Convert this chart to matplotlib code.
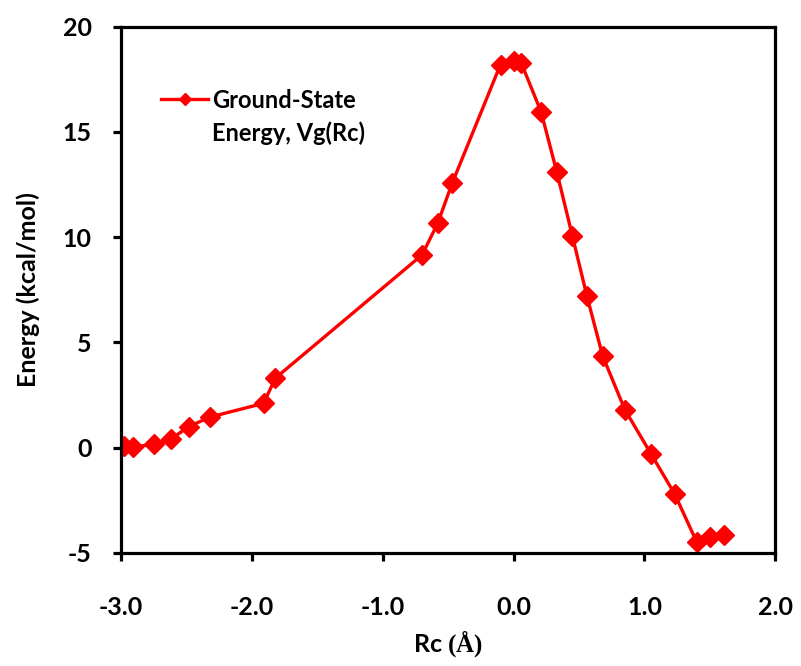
import matplotlib.pyplot as plt
from matplotlib.lines import Line2D

rc = [-2.98, -2.91, -2.75, -2.62, -2.48, -2.32, -1.91, -1.82,
      -0.70, -0.58, -0.47, -0.10, 0.00, 0.06, 0.21, 0.33, 0.45,
      0.56, 0.68, 0.85, 1.05, 1.23, 1.40, 1.50, 1.61]
energy = [0.05, 0.02, 0.15, 0.40, 1.0, 1.45, 2.1, 3.3,
          9.15, 10.65, 12.55, 18.2, 18.35, 18.25, 15.95, 13.1, 10.03,
          7.2, 4.36, 1.8, -0.3, -2.2, -4.5, -4.25, -4.14]

xticks = [-3, -2, -1, 0, 1, 2]
xticklabels = ['-3.0', '-2.0', '-1.0', '0.0', '1.0', '2.0']
yticks = [-5, 0, 5, 10, 15, 20]

plt.rcParams['font.family'] = ['Lato', 'DejaVu Sans']
plt.rcParams['font.weight'] = 'bold'
plt.rcParams['axes.unicode_minus'] = False
plt.rcParams['mathtext.fontset'] = 'custom'
plt.rcParams['mathtext.rm'] = 'Liberation Serif'

fig = plt.figure(figsize=(8.01, 6.66), dpi=100)
ax = fig.add_axes([0.151, 0.17, 0.817, 0.79])

line, = ax.plot(rc, energy, color='red', lw=2.4, marker='D', markersize=10)

ax.set_xlim(-3, 2)
ax.set_ylim(-5, 20)
ax.set_xticks(xticks)
ax.set_xticklabels(xticklabels)
ax.set_yticks(yticks)
for s in ax.spines.values():
    s.set_linewidth(2.3)
ax.tick_params(direction='out', length=6, width=2.3, labelsize=18)
ax.tick_params(axis='x', pad=25)
ax.tick_params(axis='y', pad=15)

ax.set_xlabel(r'Rc $\mathrm{(Å)}$', fontsize=18, fontweight='bold')
ax.xaxis.set_label_coords(0.5, -0.143)
ax.set_ylabel('Energy (kcal/mol)', fontsize=18, fontweight='bold')
ax.yaxis.set_label_coords(-0.123, 0.5)

# legend handle sits next to the first line of the label, like the original
blank = Line2D([], [], color='none')
leg = ax.legend([line, blank], ['Ground-State', 'Energy, Vg(Rc)'],
                loc='upper left', bbox_to_anchor=(0.047, 0.9), frameon=False,
                fontsize=17, handlelength=2.0, handletextpad=0.15,
                labelspacing=0.4, markerscale=0.6, borderaxespad=0)

fig.savefig('out.png', dpi=100)
